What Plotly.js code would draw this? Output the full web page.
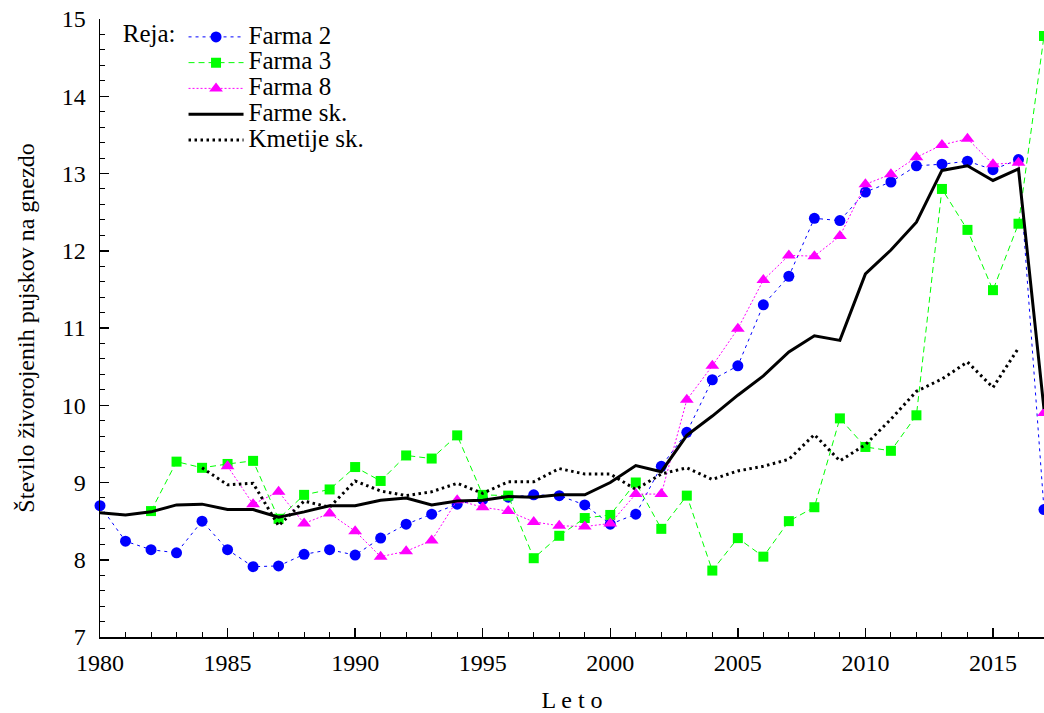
<!DOCTYPE html>
<html>
<head>
<meta charset="utf-8">
<script src="https://cdn.plot.ly/plotly-3.0.1.min.js"></script>
<style>html,body{margin:0;padding:0;background:#fff;}#chart{width:1044px;height:713px;}</style>
</head>
<body>
<div id="chart"></div>
<script>
const years = [1980,1981,1982,1983,1984,1985,1986,1987,1988,1989,1990,1991,1992,1993,1994,1995,1996,1997,1998,1999,2000,2001,2002,2003,2004,2005,2006,2007,2008,2009,2010,2011,2012,2013,2014,2015,2016,2017];

const farma2 = [8.70,8.24,8.13,8.09,8.50,8.13,7.91,7.92,8.07,8.13,8.06,8.28,8.46,8.59,8.72,8.78,8.81,8.84,8.83,8.71,8.46,8.59,9.21,9.65,10.33,10.51,11.30,11.67,12.42,12.39,12.76,12.89,13.10,13.12,13.16,13.05,13.18,8.65];

const farma3 = [null,null,8.63,9.27,9.19,9.24,9.28,8.53,8.84,8.91,9.20,9.02,9.35,9.31,9.61,8.84,8.83,8.02,8.31,8.54,8.58,9.00,8.40,8.83,7.86,8.28,8.04,8.50,8.68,9.83,9.46,9.41,9.87,12.80,12.27,11.49,12.35,14.78];

const farma8 = [null,null,null,null,null,9.21,8.72,8.88,8.47,8.60,8.37,8.04,8.11,8.25,8.77,8.68,8.63,8.49,8.44,8.43,8.47,8.85,8.85,10.07,10.51,10.99,11.62,11.94,11.93,12.19,12.86,12.99,13.21,13.37,13.45,13.12,13.14,9.90];

const farmeSk = [8.61,8.58,8.62,8.71,8.72,8.65,8.65,8.55,8.62,8.70,8.70,8.77,8.80,8.71,8.76,8.77,8.82,8.81,8.84,8.84,9.00,9.22,9.14,9.61,9.86,10.13,10.38,10.69,10.90,10.84,11.70,12.01,12.37,13.04,13.10,12.91,13.06,9.95];

const kmetijeSk = [null,null,null,null,9.19,8.97,8.99,8.44,8.76,8.68,9.02,8.89,8.83,8.88,8.99,8.86,9.01,9.01,9.18,9.11,9.11,8.91,9.11,9.19,9.04,9.15,9.21,9.30,9.62,9.28,9.49,9.82,10.18,10.34,10.56,10.23,10.74,null];

const seriesNames = ["Farma 2","Farma 3","Farma 8","Farme sk.","Kmetije sk."];
const legendTitle = "Reja:";
const xTickVals = [1980,1985,1990,1995,2000,2005,2010,2015];
const yTickVals = [7,8,9,10,11,12,13,14,15];

const FONT = "'Liberation Serif'";
// larger rendered legend text while keeping compact legend rows
const big = s => '<span style="font-size:25px">' + s + '</span>';

const traces = [
  {x: years, y: farma2, name: big(seriesNames[0]), mode: "lines+markers", cliponaxis: false,
   line: {color: "#0000ff", width: 1, dash: "3px,4px"},
   marker: {symbol: "circle", size: 11, color: "#0000ff"}},
  {x: years, y: farma3, name: big(seriesNames[1]), mode: "lines+markers", cliponaxis: false,
   line: {color: "#00ff00", width: 1, dash: "6px,4px"},
   marker: {symbol: "square", size: 10, color: "#00ff00"}},
  {x: years, y: farma8, name: big(seriesNames[2]), mode: "lines+markers", cliponaxis: false,
   line: {color: "#ff00ff", width: 1, dash: "2px,2px"},
   marker: {symbol: "triangle-up", size: 12, color: "#ff00ff"}},
  {x: years, y: farmeSk, name: big(seriesNames[3]), mode: "lines", cliponaxis: false,
   line: {color: "#000000", width: 3}},
  {x: years, y: kmetijeSk, name: big(seriesNames[4]), mode: "lines", cliponaxis: false,
   line: {color: "#000000", width: 3, dash: "2.5px,3.5px"}}
];

const layout = {
  width: 1044, height: 713,
  margin: {l: 100, r: 0, t: 19, b: 76, pad: 0},
  paper_bgcolor: "#ffffff", plot_bgcolor: "#ffffff",
  font: {family: FONT, size: 24, color: "#000"},
  showlegend: true,
  legend: {
    x: 0.022, y: 1.0, xanchor: "left", yanchor: "top",
    bgcolor: "rgba(0,0,0,0)", borderwidth: 0,
    font: {family: FONT, size: 17.5, color: "#000"},
    title: {text: big(legendTitle), side: "left", font: {family: FONT, size: 17.5, color: "#000"}},
    itemwidth: 55, tracegroupgap: 0
  },
  xaxis: {
    range: [1980, 2017], tickvals: xTickVals, ticktext: xTickVals.map(String),
    ticks: "inside", ticklen: 9, tickwidth: 1.5, tickcolor: "#000",
    minor: {dtick: 1, ticks: "inside", ticklen: 5, tickwidth: 1, tickcolor: "#000"},
    showline: true, linewidth: 1.5, linecolor: "#000", mirror: false,
    showgrid: false, zeroline: false,
    tickfont: {family: FONT, size: 24, color: "#000"},
    ticklabelstandoff: 4,
    title: {text: "L e t o", font: {family: FONT, size: 24, color: "#000"}, standoff: 22}
  },
  yaxis: {
    range: [7, 15], tickvals: yTickVals, ticktext: yTickVals.map(String),
    ticks: "inside", ticklen: 9, tickwidth: 1.5, tickcolor: "#000",
    minor: {dtick: 0.2, ticks: "inside", ticklen: 5, tickwidth: 1, tickcolor: "#000"},
    showline: true, linewidth: 1.5, linecolor: "#000", mirror: false,
    showgrid: false, zeroline: false,
    tickfont: {family: FONT, size: 24, color: "#000"},
    ticklabelstandoff: 8,
    title: {text: "Število živorojenih pujskov na gnezdo", font: {family: FONT, size: 24, color: "#000"}, standoff: 20}
  }
};

Plotly.newPlot("chart", traces, layout, {displayModeBar: false, staticPlot: true});
</script>
</body>
</html>
